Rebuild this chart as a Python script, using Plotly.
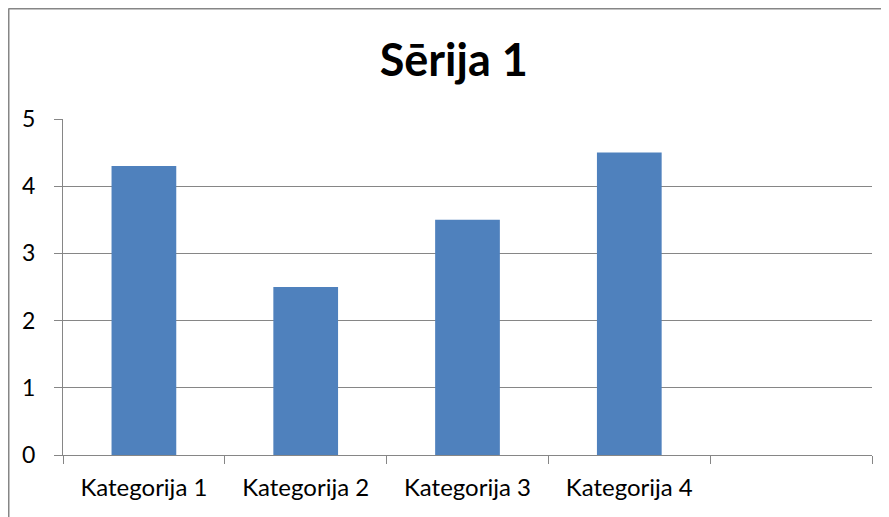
import plotly.graph_objects as go

# Donnees du graphique
categories = ["Kategorija 1", "Kategorija 2", "Kategorija 3", "Kategorija 4", " "]
values = [4.3, 2.5, 3.5, 4.5, None]
title_text = "Sērija 1"
y_ticks = [0, 1, 2, 3, 4, 5]

BAR_COLOR = "#4F81BD"
AXIS_COLOR = "#868686"
FONT = "Lato, Carlito, Calibri, sans-serif"

# La page a une marge de 8 px : la figure demarre a (8, 8)
W, H = 881, 509
ML, MR, MT, MB = 55, 17, 111, 62

fig = go.Figure()

fig.add_trace(go.Bar(
    x=categories,
    y=values,
    marker=dict(color=BAR_COLOR, line=dict(width=0)),
    width=0.4,
    showlegend=False,
    hoverinfo="x+y",
))

fig.update_xaxes(
    type="category",
    categoryorder="array",
    categoryarray=categories,
    tickson="boundaries",
    ticks="outside",
    ticklen=8,
    tickcolor=AXIS_COLOR,
    showline=True,
    linecolor=AXIS_COLOR,
    linewidth=1,
    showgrid=False,
    tickfont=dict(family=FONT, size=24, color="black"),
    ticklabelstandoff=11,
)

fig.update_yaxes(
    range=[0, 5],
    tickvals=y_ticks,
    ticks="outside",
    ticklen=8,
    tickcolor=AXIS_COLOR,
    showline=True,
    linecolor=AXIS_COLOR,
    linewidth=1,
    showgrid=True,
    gridcolor=AXIS_COLOR,
    gridwidth=1,
    zeroline=False,
    tickfont=dict(family=FONT, size=23, color="black"),
    ticklabelstandoff=14,
)

# Cadre du graphique (bord gauche et haut), au bord de la figure
pw = W - ML - MR
ph = H - MT - MB
x_left = -(ML - 0.5) / pw
y_top = 1 + (MT - 0.5) / ph
fig.add_shape(type="line", xref="paper", yref="paper",
              x0=x_left, x1=x_left, y0=-MB / ph, y1=y_top,
              line=dict(color=AXIS_COLOR, width=2))
fig.add_shape(type="line", xref="paper", yref="paper",
              x0=x_left, x1=1 + MR / pw, y0=y_top, y1=y_top,
              line=dict(color=AXIS_COLOR, width=2))

fig.update_layout(
    title=dict(
        text=f"<b>{title_text}</b>",
        font=dict(family=FONT, size=45, color="black"),
        x=0.506,
        xanchor="center",
        y=0.898,
        yanchor="middle",
    ),
    width=W,
    height=H,
    plot_bgcolor="white",
    paper_bgcolor="white",
    margin=dict(l=ML, r=MR, t=MT, b=MB),
    bargap=0.6,
)

fig.write_html("out.html")
